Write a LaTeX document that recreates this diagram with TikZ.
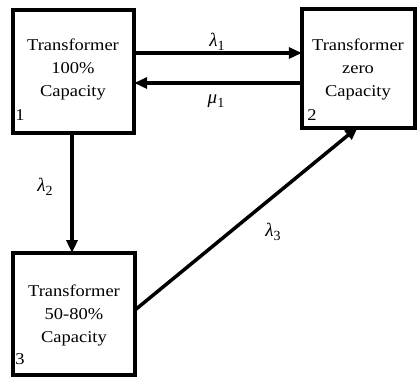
\documentclass[tikz,border=0pt]{standalone}
\usepackage{fontspec}
\setmainfont[FakeStretch=1.12]{Liberation Serif}
\newfontfamily\grk{Liberation Serif}
\newcommand{\rsub}[1]{\raisebox{-4bp}{\upshape\fontsize{14bp}{14bp}\selectfont #1}}
\usetikzlibrary{arrows.meta}
\begin{document}
\begin{tikzpicture}[x=1bp,y=-1bp,
  box/.style={draw=black,line width=4bp,fill=white},
  lbl/.style={align=center,font=\fontsize{16.5bp}{23bp}\selectfont,inner sep=0},
  num/.style={font=\fontsize{16.5bp}{20bp}\selectfont,inner sep=0},
  conn/.style={line width=3.5bp,-{Triangle[length=13bp,width=11bp]}},
  rate/.style={font=\grk\itshape\fontsize{19bp}{22bp}\selectfont,inner sep=0}]
\useasboundingbox (0,0) rectangle (417,378);
\node[minimum width=121bp,minimum height=123bp,inner sep=0] (b1) at (73.5,71.5) {};
\node[minimum width=113bp,minimum height=118bp,inner sep=0] (b2) at (358.5,68.5) {};
\node[minimum width=122bp,minimum height=122bp,inner sep=0] (b3) at (74,314) {};
\draw[box] (b1.north west) rectangle (b1.south east);
\draw[box] (b2.north west) rectangle (b2.south east);
\draw[box] (b3.north west) rectangle (b3.south east);
\node[lbl] (t1) at (73,69) {Transformer\\100\%\\Capacity};
\node[lbl] (t2) at (358,69) {Transformer\\zero\\Capacity};
\node[lbl] (t3) at (74,315) {Transformer\\50-80\%\\Capacity};
\node[num] (n1) at (20,115) {1};
\node[num] (n2) at (312,115) {2};
\node[num] (n3) at (20,359) {3};
\coordinate (a1s) at (b1.east |- 0,53);
\coordinate (a1e) at (b2.west |- 0,53);
\coordinate (a2s) at (b2.west |- 0,83);
\coordinate (a2e) at (b1.east |- 0,83);
\coordinate (a3s) at (72,133);
\coordinate (a3e) at (72,253);
\coordinate (a4s) at (135,310);
\coordinate (a4e) at (358,127);
\draw[conn] (a1s) -- (a1e);
\draw[conn] (a2s) -- (a2e);
\draw[conn] (a3s) -- (a3e);
\draw[conn] (a4s) -- (a4e);
\node[rate] (l1) at (217,42) {λ\rsub{1}};
\node[rate] (m1) at (216,101) {μ\rsub{1}};
\node[rate] (l2) at (45,187) {λ\rsub{2}};
\node[rate] (l3) at (273,232) {λ\rsub{3}};
\end{tikzpicture}
\end{document}
